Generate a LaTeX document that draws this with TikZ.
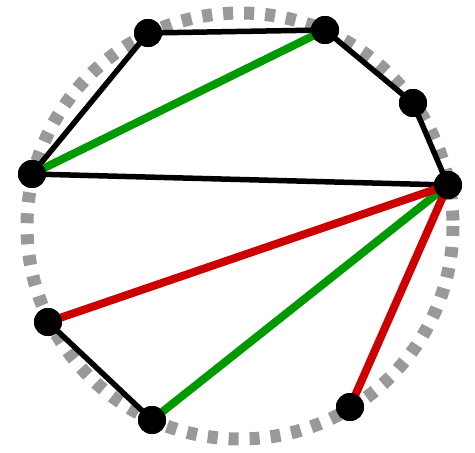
\documentclass[tikz,border=0pt]{standalone}
\begin{document}
\begin{tikzpicture}[x=1pt,y=-1pt,
  dot/.style={circle,fill=black,inner sep=0pt,minimum size=28pt},
  blk/.style={line width=5.5pt,black},
  grn/.style={line width=8pt,green!60!black},
  rd/.style={line width=8pt,red!80!black}]
\useasboundingbox (0,0) rectangle (475,453);
\draw[line width=13pt,gray!80,dash pattern=on 10pt off 11pt] (240,226) circle (213);
\node[dot] (a) at (148,33) {};
\node[dot] (b) at (325,30) {};
\node[dot] (c) at (413,103) {};
\node[dot] (d) at (448,185) {};
\node[dot] (e) at (350,407) {};
\node[dot] (f) at (152,420) {};
\node[dot] (g) at (48,322) {};
\node[dot] (h) at (32,174) {};
\draw[blk] (h.center) -- (a.center) -- (b.center) -- (c.center) -- (d.center) -- (h.center);
\draw[blk] (g.center) -- (f.center);
\draw[grn] (h.center) -- (b.center);
\draw[grn] (f.center) -- (d.center);
\draw[rd] (g.center) -- (d.center);
\draw[rd] (e.center) -- (d.center);
\foreach \n in {a,b,c,d,e,f,g,h} \fill (\n) circle (14);
\end{tikzpicture}
\end{document}
